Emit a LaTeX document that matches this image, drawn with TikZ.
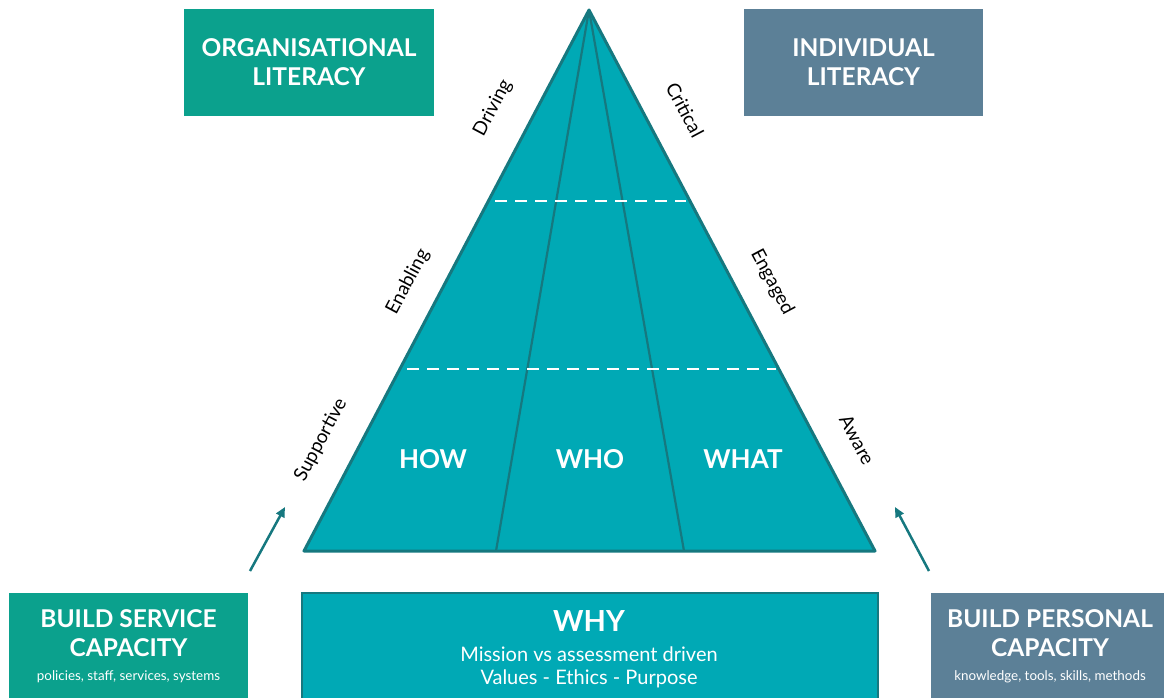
\documentclass[tikz,border=0pt]{standalone}
\usepackage{fontspec}
\setmainfont{Lato}
\usetikzlibrary{arrows.meta}
\definecolor{orggreen}{RGB}{11,161,141}
\definecolor{indblue}{RGB}{92,128,151}
\definecolor{pyrteal}{RGB}{0,169,181}
\definecolor{darkteal}{RGB}{22,120,127}

\begin{document}
\begin{tikzpicture}[x=1pt,y=-1pt,
    headtxt/.style={text=white,align=center,font=\bfseries\fontsize{24.5}{29}\selectfont},
    smalltxt/.style={text=white,font=\fontsize{13.4}{15}\selectfont},
    sidetxt/.style={text=black,font=\fontsize{19}{22}\selectfont},
    boxnode/.style={minimum width=#1,inner sep=0pt,text=white,align=center},
    uparrow/.style={-{Triangle[length=10pt,width=9pt]},darkteal,line width=2.5pt}]
        \clip (0,0) rectangle (1164,698);

        \node[boxnode=250pt, minimum height=107pt, fill=orggreen, headtxt] (orglit) at (309,62.5) {ORGANISATIONAL\\LITERACY};
        \node[boxnode=239pt, minimum height=107pt, fill=indblue, headtxt] (indlit) at (863.5,62.5) {INDIVIDUAL\\LITERACY};

        \coordinate (apex) at (589,10);
        \coordinate (bl) at (304,551);
        \coordinate (br) at (875,551);
        \coordinate (ml) at (496,551);
        \coordinate (mr) at (684,551);

        \filldraw[fill=pyrteal, draw=darkteal, line width=3pt, line join=round] (apex) -- (bl) -- (br) -- cycle;
        \draw[darkteal, line width=2.2pt] (apex) -- (ml);
        \draw[darkteal, line width=2.2pt] (apex) -- (mr);

        \draw[white, line width=2pt, dash pattern=on 12pt off 8pt] (495,201) -- (686,201);
        \draw[white, line width=2pt, dash pattern=on 12pt off 8pt] (407,369) -- (776,369);

        \node[text=white, font=\bfseries\fontsize{26}{29}\selectfont] (how) at (433,459) {HOW};
        \node[text=white, font=\bfseries\fontsize{26}{29}\selectfont] (who) at (590,459) {WHO};
        \node[text=white, font=\bfseries\fontsize{26}{29}\selectfont] (what) at (743,459) {WHAT};

        \node[sidetxt, rotate=62] (driving) at (493,108) {Driving};
        \node[sidetxt, rotate=62] (enabling) at (408,282) {Enabling};
        \node[sidetxt, rotate=62] (supportive) at (321,440) {Supportive};
        \node[sidetxt, rotate=-62] (critical) at (685,110) {Critical};
        \node[sidetxt, rotate=-62] (engaged) at (772,282) {Engaged};
        \node[sidetxt, rotate=-62] (aware) at (857,440) {Aware};

        \node[boxnode=239pt, minimum height=130pt, fill=orggreen, anchor=north west] (servbox) at (9,593) {};
        \node[headtxt] (servtitle) at (128.5,633) {BUILD SERVICE\\CAPACITY};
        \node[smalltxt] (servsub) at (128.5,677) {policies, staff, services, systems};

        \node[boxnode=576pt, minimum height=130pt, fill=pyrteal, draw=darkteal, line width=2pt, anchor=north west] (whybox) at (301,592) {};
        \node[text=white, font=\bfseries\fontsize{29}{33}\selectfont] (why) at (589,621) {WHY};
        \node[text=white, align=center, font=\fontsize{20}{23}\selectfont] (whysub) at (589,667) {Mission vs assessment driven\\Values - Ethics - Purpose};

        \node[boxnode=240pt, minimum height=130pt, fill=indblue, anchor=north west] (persbox) at (931,593) {};
        \node[headtxt] (perstitle) at (1050,633) {BUILD PERSONAL\\CAPACITY};
        \node[smalltxt] (perssub) at (1050,677) {knowledge, tools, skills, methods};

        \coordinate (servtip) at (285,507);
        \coordinate (servfoot) at (250,571);
        \coordinate (perstip) at (895,507);
        \coordinate (persfoot) at (929,571);
        \draw[uparrow] (servfoot) -- (servtip);
        \draw[uparrow] (persfoot) -- (perstip);
\end{tikzpicture}
\end{document}
